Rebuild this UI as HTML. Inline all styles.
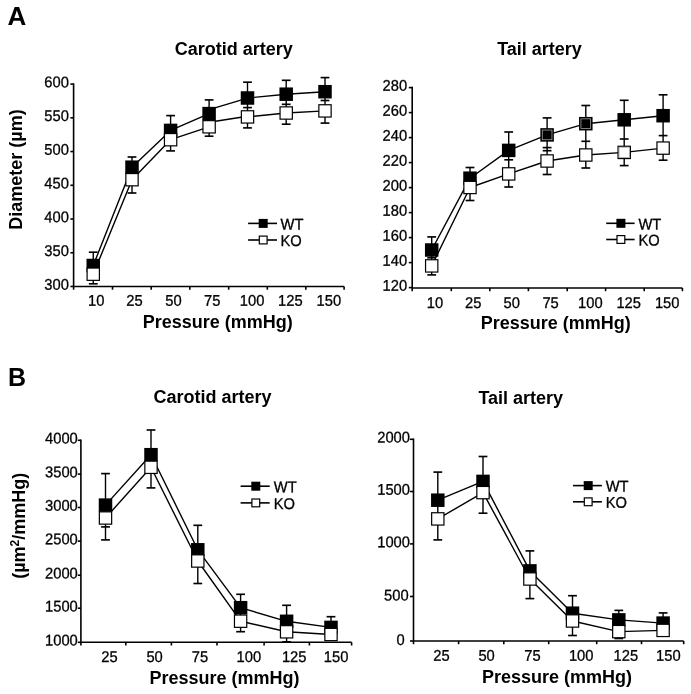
<!DOCTYPE html><html><head><meta charset="utf-8"><style>html,body{margin:0;padding:0;background:#fff;width:691px;height:694px;overflow:hidden}svg{display:block;will-change:transform}</style></head><body>
<svg width="691" height="694" viewBox="0 0 691 694" font-family='"Liberation Sans", sans-serif' fill="#000">
<rect width="691" height="694" fill="#fff"/>
<text x="7.4" y="24.9" font-size="26" font-weight="bold" text-anchor="start">A</text>
<text x="8" y="385.6" font-size="25" font-weight="bold" text-anchor="start">B</text>
<line x1="73.6" y1="83.3" x2="73.6" y2="289.7" stroke="#000" stroke-width="1.6"/>
<line x1="73.6" y1="286.5" x2="344.1" y2="286.5" stroke="#000" stroke-width="1.6"/>
<line x1="70.4" y1="84.1" x2="73.6" y2="84.1" stroke="#000" stroke-width="1.6"/>
<line x1="70.4" y1="117.83" x2="73.6" y2="117.83" stroke="#000" stroke-width="1.6"/>
<line x1="70.4" y1="151.56" x2="73.6" y2="151.56" stroke="#000" stroke-width="1.6"/>
<line x1="70.4" y1="185.29" x2="73.6" y2="185.29" stroke="#000" stroke-width="1.6"/>
<line x1="70.4" y1="219.02" x2="73.6" y2="219.02" stroke="#000" stroke-width="1.6"/>
<line x1="70.4" y1="252.75" x2="73.6" y2="252.75" stroke="#000" stroke-width="1.6"/>
<line x1="70.4" y1="286.48" x2="73.6" y2="286.48" stroke="#000" stroke-width="1.6"/>
<line x1="112.5" y1="286.5" x2="112.5" y2="289.7" stroke="#000" stroke-width="1.6"/>
<line x1="151.2" y1="286.5" x2="151.2" y2="289.7" stroke="#000" stroke-width="1.6"/>
<line x1="189.8" y1="286.5" x2="189.8" y2="289.7" stroke="#000" stroke-width="1.6"/>
<line x1="228.7" y1="286.5" x2="228.7" y2="289.7" stroke="#000" stroke-width="1.6"/>
<line x1="267.3" y1="286.5" x2="267.3" y2="289.7" stroke="#000" stroke-width="1.6"/>
<line x1="305.8" y1="286.5" x2="305.8" y2="289.7" stroke="#000" stroke-width="1.6"/>
<line x1="344.1" y1="286.5" x2="344.1" y2="289.7" stroke="#000" stroke-width="1.6"/>
<text transform="translate(68.9,87.4) rotate(0.1) scale(0.95,1)" font-size="15.5" text-anchor="end" stroke="#000" stroke-width="0.3">600</text>
<text transform="translate(68.9,121.13) rotate(0.1) scale(0.95,1)" font-size="15.5" text-anchor="end" stroke="#000" stroke-width="0.3">550</text>
<text transform="translate(68.9,154.86) rotate(0.1) scale(0.95,1)" font-size="15.5" text-anchor="end" stroke="#000" stroke-width="0.3">500</text>
<text transform="translate(68.9,188.59) rotate(0.1) scale(0.95,1)" font-size="15.5" text-anchor="end" stroke="#000" stroke-width="0.3">450</text>
<text transform="translate(68.9,222.32) rotate(0.1) scale(0.95,1)" font-size="15.5" text-anchor="end" stroke="#000" stroke-width="0.3">400</text>
<text transform="translate(68.9,256.05) rotate(0.1) scale(0.95,1)" font-size="15.5" text-anchor="end" stroke="#000" stroke-width="0.3">350</text>
<text transform="translate(68.9,289.78) rotate(0.1) scale(0.95,1)" font-size="15.5" text-anchor="end" stroke="#000" stroke-width="0.3">300</text>
<text transform="translate(96.3,305.7) rotate(0.1) scale(0.95,1)" font-size="15.5" text-anchor="middle" stroke="#000" stroke-width="0.3">10</text>
<text transform="translate(134.5,305.7) rotate(0.1) scale(0.95,1)" font-size="15.5" text-anchor="middle" stroke="#000" stroke-width="0.3">25</text>
<text transform="translate(173.5,305.7) rotate(0.1) scale(0.95,1)" font-size="15.5" text-anchor="middle" stroke="#000" stroke-width="0.3">50</text>
<text transform="translate(212.3,305.7) rotate(0.1) scale(0.95,1)" font-size="15.5" text-anchor="middle" stroke="#000" stroke-width="0.3">75</text>
<text transform="translate(252.1,305.7) rotate(0.1) scale(0.95,1)" font-size="15.5" text-anchor="middle" stroke="#000" stroke-width="0.3">100</text>
<text transform="translate(290.4,305.7) rotate(0.1) scale(0.95,1)" font-size="15.5" text-anchor="middle" stroke="#000" stroke-width="0.3">125</text>
<text transform="translate(328.8,305.7) rotate(0.1) scale(0.95,1)" font-size="15.5" text-anchor="middle" stroke="#000" stroke-width="0.3">150</text>
<text x="233.8" y="55" font-size="18" font-weight="bold" text-anchor="middle">Carotid artery</text>
<text x="217.75" y="327.7" font-size="18" font-weight="bold" text-anchor="middle">Pressure (mmHg)</text>
<text transform="translate(22,169.5) rotate(-90)" x="0" y="0" font-size="18" font-weight="bold" text-anchor="middle">Diameter (µm)</text>
<line x1="93.25" y1="265.5" x2="132" y2="167.2" stroke="#000" stroke-width="1.4" stroke-linecap="round"/>
<line x1="132" y1="167.2" x2="170.6" y2="130.4" stroke="#000" stroke-width="1.4" stroke-linecap="round"/>
<line x1="170.6" y1="130.4" x2="209.1" y2="113.6" stroke="#000" stroke-width="1.4" stroke-linecap="round"/>
<line x1="209.1" y1="109.6" x2="247.5" y2="98.2" stroke="#000" stroke-width="1.4" stroke-linecap="round"/>
<line x1="247.5" y1="98" x2="286.2" y2="94.2" stroke="#000" stroke-width="1.4" stroke-linecap="round"/>
<line x1="286.2" y1="94.2" x2="325" y2="91.7" stroke="#000" stroke-width="1.4" stroke-linecap="round"/>
<line x1="93.25" y1="274.2" x2="132" y2="179.7" stroke="#000" stroke-width="1.4" stroke-linecap="round"/>
<line x1="132" y1="179.7" x2="170.6" y2="139.7" stroke="#000" stroke-width="1.4" stroke-linecap="round"/>
<line x1="170.6" y1="139.7" x2="209.1" y2="126.8" stroke="#000" stroke-width="1.4" stroke-linecap="round"/>
<line x1="209.1" y1="122.3" x2="247.5" y2="116.3" stroke="#000" stroke-width="1.4" stroke-linecap="round"/>
<line x1="247.5" y1="116.9" x2="286.2" y2="113" stroke="#000" stroke-width="1.4" stroke-linecap="round"/>
<line x1="286.2" y1="113" x2="325" y2="110.9" stroke="#000" stroke-width="1.4" stroke-linecap="round"/>
<line x1="93.25" y1="252.2" x2="93.25" y2="283.8" stroke="#000" stroke-width="1.4"/>
<line x1="88.85" y1="252.2" x2="97.65" y2="252.2" stroke="#000" stroke-width="1.65"/>
<line x1="88.85" y1="283.8" x2="97.65" y2="283.8" stroke="#000" stroke-width="1.65"/>
<line x1="132" y1="157" x2="132" y2="193" stroke="#000" stroke-width="1.4"/>
<line x1="127.6" y1="157" x2="136.4" y2="157" stroke="#000" stroke-width="1.65"/>
<line x1="127.6" y1="193" x2="136.4" y2="193" stroke="#000" stroke-width="1.65"/>
<line x1="170.6" y1="115.6" x2="170.6" y2="150.9" stroke="#000" stroke-width="1.4"/>
<line x1="166.2" y1="115.6" x2="175" y2="115.6" stroke="#000" stroke-width="1.65"/>
<line x1="166.2" y1="150.9" x2="175" y2="150.9" stroke="#000" stroke-width="1.65"/>
<line x1="209.1" y1="99.9" x2="209.1" y2="136.2" stroke="#000" stroke-width="1.4"/>
<line x1="204.7" y1="99.9" x2="213.5" y2="99.9" stroke="#000" stroke-width="1.65"/>
<line x1="204.7" y1="136.2" x2="213.5" y2="136.2" stroke="#000" stroke-width="1.65"/>
<line x1="247.5" y1="82.2" x2="247.5" y2="127.9" stroke="#000" stroke-width="1.4"/>
<line x1="243.1" y1="82.2" x2="251.9" y2="82.2" stroke="#000" stroke-width="1.65"/>
<line x1="243.1" y1="107.6" x2="251.9" y2="107.6" stroke="#000" stroke-width="1.65"/>
<line x1="243.1" y1="127.9" x2="251.9" y2="127.9" stroke="#000" stroke-width="1.65"/>
<line x1="286.2" y1="80.3" x2="286.2" y2="124.2" stroke="#000" stroke-width="1.4"/>
<line x1="281.8" y1="80.3" x2="290.6" y2="80.3" stroke="#000" stroke-width="1.65"/>
<line x1="281.8" y1="104.3" x2="290.6" y2="104.3" stroke="#000" stroke-width="1.65"/>
<line x1="281.8" y1="124.2" x2="290.6" y2="124.2" stroke="#000" stroke-width="1.65"/>
<line x1="325" y1="77.6" x2="325" y2="123.1" stroke="#000" stroke-width="1.4"/>
<line x1="320.6" y1="77.6" x2="329.4" y2="77.6" stroke="#000" stroke-width="1.65"/>
<line x1="320.6" y1="100.5" x2="329.4" y2="100.5" stroke="#000" stroke-width="1.65"/>
<line x1="320.6" y1="123.1" x2="329.4" y2="123.1" stroke="#000" stroke-width="1.65"/>
<rect x="86.5" y="258.75" width="13.5" height="13.5" fill="#000"/>
<rect x="125.25" y="160.45" width="13.5" height="13.5" fill="#000"/>
<rect x="163.85" y="123.65" width="13.5" height="13.5" fill="#000"/>
<rect x="202.35" y="106.85" width="13.5" height="13.5" fill="#000"/>
<rect x="240.75" y="91.25" width="13.5" height="13.5" fill="#000"/>
<rect x="279.45" y="87.45" width="13.5" height="13.5" fill="#000"/>
<rect x="318.25" y="84.95" width="13.5" height="13.5" fill="#000"/>
<rect x="87.1" y="268.05" width="12.3" height="12.3" fill="#fff" stroke="#000" stroke-width="1.2"/>
<rect x="125.85" y="173.55" width="12.3" height="12.3" fill="#fff" stroke="#000" stroke-width="1.2"/>
<rect x="164.45" y="133.55" width="12.3" height="12.3" fill="#fff" stroke="#000" stroke-width="1.2"/>
<rect x="202.95" y="120.65" width="12.3" height="12.3" fill="#fff" stroke="#000" stroke-width="1.2"/>
<rect x="241.35" y="110.75" width="12.3" height="12.3" fill="#fff" stroke="#000" stroke-width="1.2"/>
<rect x="280.05" y="106.85" width="12.3" height="12.3" fill="#fff" stroke="#000" stroke-width="1.2"/>
<rect x="318.85" y="104.75" width="12.3" height="12.3" fill="#fff" stroke="#000" stroke-width="1.2"/>
<line x1="248.1" y1="223.4" x2="277" y2="223.4" stroke="#000" stroke-width="1.6"/>
<rect x="258.7" y="218.9" width="9" height="9" fill="#000"/>
<text transform="translate(280.5,229.5) rotate(0.1) scale(0.95,1)" font-size="15.5" text-anchor="start" stroke="#000" stroke-width="0.3">WT</text>
<line x1="248.1" y1="240" x2="277" y2="240" stroke="#000" stroke-width="1.6"/>
<rect x="259.3" y="236.1" width="7.8" height="7.8" fill="#fff" stroke="#000" stroke-width="1.2"/>
<text transform="translate(280.5,246.1) rotate(0.1) scale(0.95,1)" font-size="15.5" text-anchor="start" stroke="#000" stroke-width="0.3">KO</text>
<line x1="412.2" y1="86.8" x2="412.2" y2="291.2" stroke="#000" stroke-width="1.6"/>
<line x1="412.2" y1="288" x2="682.4" y2="288" stroke="#000" stroke-width="1.6"/>
<line x1="408.8" y1="87.6" x2="412.2" y2="87.6" stroke="#000" stroke-width="1.6"/>
<line x1="408.8" y1="112.6" x2="412.2" y2="112.6" stroke="#000" stroke-width="1.6"/>
<line x1="408.8" y1="137.6" x2="412.2" y2="137.6" stroke="#000" stroke-width="1.6"/>
<line x1="408.8" y1="162.6" x2="412.2" y2="162.6" stroke="#000" stroke-width="1.6"/>
<line x1="408.8" y1="187.6" x2="412.2" y2="187.6" stroke="#000" stroke-width="1.6"/>
<line x1="408.8" y1="212.6" x2="412.2" y2="212.6" stroke="#000" stroke-width="1.6"/>
<line x1="408.8" y1="237.6" x2="412.2" y2="237.6" stroke="#000" stroke-width="1.6"/>
<line x1="408.8" y1="262.6" x2="412.2" y2="262.6" stroke="#000" stroke-width="1.6"/>
<line x1="408.8" y1="287.6" x2="412.2" y2="287.6" stroke="#000" stroke-width="1.6"/>
<line x1="451.3" y1="288" x2="451.3" y2="291.2" stroke="#000" stroke-width="1.6"/>
<line x1="489.8" y1="288" x2="489.8" y2="291.2" stroke="#000" stroke-width="1.6"/>
<line x1="528.4" y1="288" x2="528.4" y2="291.2" stroke="#000" stroke-width="1.6"/>
<line x1="567.2" y1="288" x2="567.2" y2="291.2" stroke="#000" stroke-width="1.6"/>
<line x1="605.6" y1="288" x2="605.6" y2="291.2" stroke="#000" stroke-width="1.6"/>
<line x1="644.2" y1="288" x2="644.2" y2="291.2" stroke="#000" stroke-width="1.6"/>
<line x1="682.4" y1="288" x2="682.4" y2="291.2" stroke="#000" stroke-width="1.6"/>
<text transform="translate(407.1,90.8) rotate(0.1) scale(0.95,1)" font-size="15.5" text-anchor="end" stroke="#000" stroke-width="0.3">280</text>
<text transform="translate(407.1,115.8) rotate(0.1) scale(0.95,1)" font-size="15.5" text-anchor="end" stroke="#000" stroke-width="0.3">260</text>
<text transform="translate(407.1,140.8) rotate(0.1) scale(0.95,1)" font-size="15.5" text-anchor="end" stroke="#000" stroke-width="0.3">240</text>
<text transform="translate(407.1,165.8) rotate(0.1) scale(0.95,1)" font-size="15.5" text-anchor="end" stroke="#000" stroke-width="0.3">220</text>
<text transform="translate(407.1,190.8) rotate(0.1) scale(0.95,1)" font-size="15.5" text-anchor="end" stroke="#000" stroke-width="0.3">200</text>
<text transform="translate(407.1,215.8) rotate(0.1) scale(0.95,1)" font-size="15.5" text-anchor="end" stroke="#000" stroke-width="0.3">180</text>
<text transform="translate(407.1,240.8) rotate(0.1) scale(0.95,1)" font-size="15.5" text-anchor="end" stroke="#000" stroke-width="0.3">160</text>
<text transform="translate(407.1,265.8) rotate(0.1) scale(0.95,1)" font-size="15.5" text-anchor="end" stroke="#000" stroke-width="0.3">140</text>
<text transform="translate(407.1,290.8) rotate(0.1) scale(0.95,1)" font-size="15.5" text-anchor="end" stroke="#000" stroke-width="0.3">120</text>
<text transform="translate(435,308) rotate(0.1) scale(0.95,1)" font-size="15.5" text-anchor="middle" stroke="#000" stroke-width="0.3">10</text>
<text transform="translate(473.2,308) rotate(0.1) scale(0.95,1)" font-size="15.5" text-anchor="middle" stroke="#000" stroke-width="0.3">25</text>
<text transform="translate(511.7,308) rotate(0.1) scale(0.95,1)" font-size="15.5" text-anchor="middle" stroke="#000" stroke-width="0.3">50</text>
<text transform="translate(550.6,308) rotate(0.1) scale(0.95,1)" font-size="15.5" text-anchor="middle" stroke="#000" stroke-width="0.3">75</text>
<text transform="translate(590.4,308) rotate(0.1) scale(0.95,1)" font-size="15.5" text-anchor="middle" stroke="#000" stroke-width="0.3">100</text>
<text transform="translate(628.7,308) rotate(0.1) scale(0.95,1)" font-size="15.5" text-anchor="middle" stroke="#000" stroke-width="0.3">125</text>
<text transform="translate(667.2,308) rotate(0.1) scale(0.95,1)" font-size="15.5" text-anchor="middle" stroke="#000" stroke-width="0.3">150</text>
<text x="539.5" y="55.2" font-size="18" font-weight="bold" text-anchor="middle">Tail artery</text>
<text x="555.65" y="328.9" font-size="18" font-weight="bold" text-anchor="middle">Pressure (mmHg)</text>
<polyline points="431.7,250 470,178.2 508.7,150.4 547.1,134.9 585.8,123.7 624.2,119.8 663.1,115.7" fill="none" stroke="#000" stroke-width="1.4" stroke-linejoin="round"/>
<polyline points="431.7,265.9 470,187.5 508.7,173.9 547.1,161 585.8,155 624.2,152.4 663.1,148.1" fill="none" stroke="#000" stroke-width="1.4" stroke-linejoin="round"/>
<line x1="431.7" y1="236.9" x2="431.7" y2="274.9" stroke="#000" stroke-width="1.4"/>
<line x1="427.3" y1="236.9" x2="436.1" y2="236.9" stroke="#000" stroke-width="1.65"/>
<line x1="427.3" y1="257.8" x2="436.1" y2="257.8" stroke="#000" stroke-width="1.65"/>
<line x1="427.3" y1="274.9" x2="436.1" y2="274.9" stroke="#000" stroke-width="1.65"/>
<line x1="470" y1="167.5" x2="470" y2="200.5" stroke="#000" stroke-width="1.4"/>
<line x1="465.6" y1="167.5" x2="474.4" y2="167.5" stroke="#000" stroke-width="1.65"/>
<line x1="465.6" y1="200.5" x2="474.4" y2="200.5" stroke="#000" stroke-width="1.65"/>
<line x1="508.7" y1="132" x2="508.7" y2="187" stroke="#000" stroke-width="1.4"/>
<line x1="504.3" y1="132" x2="513.1" y2="132" stroke="#000" stroke-width="1.65"/>
<line x1="504.3" y1="159.8" x2="513.1" y2="159.8" stroke="#000" stroke-width="1.65"/>
<line x1="504.3" y1="187" x2="513.1" y2="187" stroke="#000" stroke-width="1.65"/>
<line x1="547.1" y1="117.9" x2="547.1" y2="174.5" stroke="#000" stroke-width="1.4"/>
<line x1="542.7" y1="117.9" x2="551.5" y2="117.9" stroke="#000" stroke-width="1.65"/>
<line x1="542.7" y1="147.6" x2="551.5" y2="147.6" stroke="#000" stroke-width="1.65"/>
<line x1="542.7" y1="150.7" x2="551.5" y2="150.7" stroke="#000" stroke-width="1.65"/>
<line x1="542.7" y1="174.5" x2="551.5" y2="174.5" stroke="#000" stroke-width="1.65"/>
<line x1="585.8" y1="105.5" x2="585.8" y2="168" stroke="#000" stroke-width="1.4"/>
<line x1="581.4" y1="105.5" x2="590.2" y2="105.5" stroke="#000" stroke-width="1.65"/>
<line x1="581.4" y1="141.3" x2="590.2" y2="141.3" stroke="#000" stroke-width="1.65"/>
<line x1="581.4" y1="168" x2="590.2" y2="168" stroke="#000" stroke-width="1.65"/>
<line x1="624.2" y1="100.3" x2="624.2" y2="165.6" stroke="#000" stroke-width="1.4"/>
<line x1="619.8" y1="100.3" x2="628.6" y2="100.3" stroke="#000" stroke-width="1.65"/>
<line x1="619.8" y1="139" x2="628.6" y2="139" stroke="#000" stroke-width="1.65"/>
<line x1="619.8" y1="165.6" x2="628.6" y2="165.6" stroke="#000" stroke-width="1.65"/>
<line x1="663.1" y1="94.8" x2="663.1" y2="160.2" stroke="#000" stroke-width="1.4"/>
<line x1="658.7" y1="94.8" x2="667.5" y2="94.8" stroke="#000" stroke-width="1.65"/>
<line x1="658.7" y1="135.6" x2="667.5" y2="135.6" stroke="#000" stroke-width="1.65"/>
<line x1="658.7" y1="160.2" x2="667.5" y2="160.2" stroke="#000" stroke-width="1.65"/>
<rect x="424.95" y="243.25" width="13.5" height="13.5" fill="#000"/>
<rect x="463.25" y="171.45" width="13.5" height="13.5" fill="#000"/>
<rect x="501.95" y="143.65" width="13.5" height="13.5" fill="#000"/>
<rect x="540.35" y="128.15" width="13.5" height="13.5" fill="#000"/>
<rect x="542.25" y="130.05" width="9.7" height="9.7" fill="none" stroke="#b4b4b4" stroke-width="0.7"/>
<rect x="579.05" y="116.95" width="13.5" height="13.5" fill="#000"/>
<rect x="580.95" y="118.85" width="9.7" height="9.7" fill="none" stroke="#b4b4b4" stroke-width="0.7"/>
<rect x="617.45" y="113.05" width="13.5" height="13.5" fill="#000"/>
<rect x="656.35" y="108.95" width="13.5" height="13.5" fill="#000"/>
<rect x="425.55" y="259.75" width="12.3" height="12.3" fill="#fff" stroke="#000" stroke-width="1.2"/>
<rect x="463.85" y="181.35" width="12.3" height="12.3" fill="#fff" stroke="#000" stroke-width="1.2"/>
<rect x="502.55" y="167.75" width="12.3" height="12.3" fill="#fff" stroke="#000" stroke-width="1.2"/>
<rect x="540.95" y="154.85" width="12.3" height="12.3" fill="#fff" stroke="#000" stroke-width="1.2"/>
<rect x="579.65" y="148.85" width="12.3" height="12.3" fill="#fff" stroke="#000" stroke-width="1.2"/>
<rect x="618.05" y="146.25" width="12.3" height="12.3" fill="#fff" stroke="#000" stroke-width="1.2"/>
<rect x="619.05" y="147.25" width="10.3" height="10.3" fill="none" stroke="#9a9a9a" stroke-width="0.7"/>
<rect x="656.95" y="141.95" width="12.3" height="12.3" fill="#fff" stroke="#000" stroke-width="1.2"/>
<line x1="606.2" y1="223.3" x2="634.6" y2="223.3" stroke="#000" stroke-width="1.6"/>
<rect x="616.4" y="218.8" width="9" height="9" fill="#000"/>
<text transform="translate(638.4,229.4) rotate(0.1) scale(0.95,1)" font-size="15.5" text-anchor="start" stroke="#000" stroke-width="0.3">WT</text>
<line x1="606.2" y1="239.5" x2="634.6" y2="239.5" stroke="#000" stroke-width="1.6"/>
<rect x="617" y="235.6" width="7.8" height="7.8" fill="#fff" stroke="#000" stroke-width="1.2"/>
<text transform="translate(638.4,245.6) rotate(0.1) scale(0.95,1)" font-size="15.5" text-anchor="start" stroke="#000" stroke-width="0.3">KO</text>
<line x1="80.9" y1="439.5" x2="80.9" y2="645.5" stroke="#000" stroke-width="1.6"/>
<line x1="80.9" y1="642.3" x2="351.6" y2="642.3" stroke="#000" stroke-width="1.6"/>
<line x1="77.7" y1="440.3" x2="80.9" y2="440.3" stroke="#000" stroke-width="1.6"/>
<line x1="77.7" y1="474.1" x2="80.9" y2="474.1" stroke="#000" stroke-width="1.6"/>
<line x1="77.7" y1="507.5" x2="80.9" y2="507.5" stroke="#000" stroke-width="1.6"/>
<line x1="77.7" y1="541.1" x2="80.9" y2="541.1" stroke="#000" stroke-width="1.6"/>
<line x1="77.7" y1="575.2" x2="80.9" y2="575.2" stroke="#000" stroke-width="1.6"/>
<line x1="77.7" y1="608.2" x2="80.9" y2="608.2" stroke="#000" stroke-width="1.6"/>
<line x1="77.7" y1="642.3" x2="80.9" y2="642.3" stroke="#000" stroke-width="1.6"/>
<line x1="125.8" y1="642.3" x2="125.8" y2="645.5" stroke="#000" stroke-width="1.6"/>
<line x1="171.4" y1="642.3" x2="171.4" y2="645.5" stroke="#000" stroke-width="1.6"/>
<line x1="217" y1="642.3" x2="217" y2="645.5" stroke="#000" stroke-width="1.6"/>
<line x1="264.1" y1="642.3" x2="264.1" y2="645.5" stroke="#000" stroke-width="1.6"/>
<line x1="309.4" y1="642.3" x2="309.4" y2="645.5" stroke="#000" stroke-width="1.6"/>
<line x1="351.6" y1="642.3" x2="351.6" y2="645.5" stroke="#000" stroke-width="1.6"/>
<text transform="translate(77.8,443.6) rotate(0.1) scale(0.95,1)" font-size="15.5" text-anchor="end" stroke="#000" stroke-width="0.3">4000</text>
<text transform="translate(77.8,477.4) rotate(0.1) scale(0.95,1)" font-size="15.5" text-anchor="end" stroke="#000" stroke-width="0.3">3500</text>
<text transform="translate(77.8,510.8) rotate(0.1) scale(0.95,1)" font-size="15.5" text-anchor="end" stroke="#000" stroke-width="0.3">3000</text>
<text transform="translate(77.8,544.4) rotate(0.1) scale(0.95,1)" font-size="15.5" text-anchor="end" stroke="#000" stroke-width="0.3">2500</text>
<text transform="translate(77.8,578.5) rotate(0.1) scale(0.95,1)" font-size="15.5" text-anchor="end" stroke="#000" stroke-width="0.3">2000</text>
<text transform="translate(77.8,611.5) rotate(0.1) scale(0.95,1)" font-size="15.5" text-anchor="end" stroke="#000" stroke-width="0.3">1500</text>
<text transform="translate(77.8,645.6) rotate(0.1) scale(0.95,1)" font-size="15.5" text-anchor="end" stroke="#000" stroke-width="0.3">1000</text>
<text transform="translate(109.5,662) rotate(0.1) scale(0.95,1)" font-size="15.5" text-anchor="middle" stroke="#000" stroke-width="0.3">25</text>
<text transform="translate(154.6,662) rotate(0.1) scale(0.95,1)" font-size="15.5" text-anchor="middle" stroke="#000" stroke-width="0.3">50</text>
<text transform="translate(200,662) rotate(0.1) scale(0.95,1)" font-size="15.5" text-anchor="middle" stroke="#000" stroke-width="0.3">75</text>
<text transform="translate(248.9,662) rotate(0.1) scale(0.95,1)" font-size="15.5" text-anchor="middle" stroke="#000" stroke-width="0.3">100</text>
<text transform="translate(294.2,662) rotate(0.1) scale(0.95,1)" font-size="15.5" text-anchor="middle" stroke="#000" stroke-width="0.3">125</text>
<text transform="translate(336.1,662) rotate(0.1) scale(0.95,1)" font-size="15.5" text-anchor="middle" stroke="#000" stroke-width="0.3">150</text>
<text x="212.5" y="403.4" font-size="18" font-weight="bold" text-anchor="middle">Carotid artery</text>
<text x="224.5" y="684" font-size="18" font-weight="bold" text-anchor="middle">Pressure (mmHg)</text>
<text transform="translate(24.9,525.75) rotate(-90)" x="0" y="0" font-size="18" font-weight="bold" text-anchor="middle">(µm<tspan font-size="12" dy="-6">2</tspan><tspan dy="6">/mmHg)</tspan></text>
<polyline points="105.5,505.1 151,454.7 197.8,549.8 240.6,607.7 286.6,621.3 331,627.4" fill="none" stroke="#000" stroke-width="1.4" stroke-linejoin="round"/>
<polyline points="105.5,518 151,467.3 197.8,561 240.6,621.2 286.6,631.8 331,634.5" fill="none" stroke="#000" stroke-width="1.4" stroke-linejoin="round"/>
<line x1="105.5" y1="473.6" x2="105.5" y2="539.9" stroke="#000" stroke-width="1.4"/>
<line x1="101.1" y1="473.6" x2="109.9" y2="473.6" stroke="#000" stroke-width="1.65"/>
<line x1="101.1" y1="526.9" x2="109.9" y2="526.9" stroke="#000" stroke-width="1.65"/>
<line x1="101.1" y1="539.9" x2="109.9" y2="539.9" stroke="#000" stroke-width="1.65"/>
<line x1="151" y1="430" x2="151" y2="487.9" stroke="#000" stroke-width="1.4"/>
<line x1="146.6" y1="430" x2="155.4" y2="430" stroke="#000" stroke-width="1.65"/>
<line x1="146.6" y1="487.9" x2="155.4" y2="487.9" stroke="#000" stroke-width="1.65"/>
<line x1="197.8" y1="525.3" x2="197.8" y2="583.5" stroke="#000" stroke-width="1.4"/>
<line x1="193.4" y1="525.3" x2="202.2" y2="525.3" stroke="#000" stroke-width="1.65"/>
<line x1="193.4" y1="583.5" x2="202.2" y2="583.5" stroke="#000" stroke-width="1.65"/>
<line x1="240.6" y1="594.3" x2="240.6" y2="631.7" stroke="#000" stroke-width="1.4"/>
<line x1="236.2" y1="594.3" x2="245" y2="594.3" stroke="#000" stroke-width="1.65"/>
<line x1="236.2" y1="631.7" x2="245" y2="631.7" stroke="#000" stroke-width="1.65"/>
<line x1="286.6" y1="605.3" x2="286.6" y2="641.8" stroke="#000" stroke-width="1.4"/>
<line x1="282.2" y1="605.3" x2="291" y2="605.3" stroke="#000" stroke-width="1.65"/>
<line x1="282.2" y1="641.8" x2="291" y2="641.8" stroke="#000" stroke-width="1.65"/>
<line x1="331" y1="616.7" x2="331" y2="634.5" stroke="#000" stroke-width="1.4"/>
<line x1="326.6" y1="616.7" x2="335.4" y2="616.7" stroke="#000" stroke-width="1.65"/>
<rect x="98.75" y="498.35" width="13.5" height="13.5" fill="#000"/>
<rect x="144.25" y="447.95" width="13.5" height="13.5" fill="#000"/>
<rect x="191.05" y="543.05" width="13.5" height="13.5" fill="#000"/>
<rect x="233.85" y="600.95" width="13.5" height="13.5" fill="#000"/>
<rect x="279.85" y="614.55" width="13.5" height="13.5" fill="#000"/>
<rect x="324.25" y="620.65" width="13.5" height="13.5" fill="#000"/>
<rect x="99.35" y="511.85" width="12.3" height="12.3" fill="#fff" stroke="#000" stroke-width="1.2"/>
<rect x="144.85" y="461.15" width="12.3" height="12.3" fill="#fff" stroke="#000" stroke-width="1.2"/>
<rect x="191.65" y="554.85" width="12.3" height="12.3" fill="#fff" stroke="#000" stroke-width="1.2"/>
<rect x="234.45" y="615.05" width="12.3" height="12.3" fill="#fff" stroke="#000" stroke-width="1.2"/>
<rect x="280.45" y="625.65" width="12.3" height="12.3" fill="#fff" stroke="#000" stroke-width="1.2"/>
<rect x="324.85" y="628.35" width="12.3" height="12.3" fill="#fff" stroke="#000" stroke-width="1.2"/>
<line x1="240.6" y1="486.2" x2="269.7" y2="486.2" stroke="#000" stroke-width="1.6"/>
<rect x="251.3" y="481.7" width="9" height="9" fill="#000"/>
<text transform="translate(273.8,492.2) rotate(0.1) scale(0.95,1)" font-size="15.5" text-anchor="start" stroke="#000" stroke-width="0.3">WT</text>
<line x1="240.6" y1="502.9" x2="269.7" y2="502.9" stroke="#000" stroke-width="1.6"/>
<rect x="251.9" y="499" width="7.8" height="7.8" fill="#fff" stroke="#000" stroke-width="1.2"/>
<text transform="translate(273.8,508.9) rotate(0.1) scale(0.95,1)" font-size="15.5" text-anchor="start" stroke="#000" stroke-width="0.3">KO</text>
<line x1="413.5" y1="438.5" x2="413.5" y2="644.2" stroke="#000" stroke-width="1.6"/>
<line x1="413.5" y1="641" x2="683.7" y2="641" stroke="#000" stroke-width="1.6"/>
<line x1="410" y1="439.3" x2="413.5" y2="439.3" stroke="#000" stroke-width="1.6"/>
<line x1="410" y1="491.5" x2="413.5" y2="491.5" stroke="#000" stroke-width="1.6"/>
<line x1="410" y1="543.9" x2="413.5" y2="543.9" stroke="#000" stroke-width="1.6"/>
<line x1="410" y1="596.5" x2="413.5" y2="596.5" stroke="#000" stroke-width="1.6"/>
<line x1="410" y1="641" x2="413.5" y2="641" stroke="#000" stroke-width="1.6"/>
<line x1="458.6" y1="641" x2="458.6" y2="644.2" stroke="#000" stroke-width="1.6"/>
<line x1="503.8" y1="641" x2="503.8" y2="644.2" stroke="#000" stroke-width="1.6"/>
<line x1="548.7" y1="641" x2="548.7" y2="644.2" stroke="#000" stroke-width="1.6"/>
<line x1="596.7" y1="641" x2="596.7" y2="644.2" stroke="#000" stroke-width="1.6"/>
<line x1="641.5" y1="641" x2="641.5" y2="644.2" stroke="#000" stroke-width="1.6"/>
<line x1="683.7" y1="641" x2="683.7" y2="644.2" stroke="#000" stroke-width="1.6"/>
<text transform="translate(410,442.6) rotate(0.1) scale(0.95,1)" font-size="15.5" text-anchor="end" stroke="#000" stroke-width="0.3">2000</text>
<text transform="translate(410,494.8) rotate(0.1) scale(0.95,1)" font-size="15.5" text-anchor="end" stroke="#000" stroke-width="0.3">1500</text>
<text transform="translate(410,547.2) rotate(0.1) scale(0.95,1)" font-size="15.5" text-anchor="end" stroke="#000" stroke-width="0.3">1000</text>
<text transform="translate(408.6,600.6) rotate(0.1) scale(0.95,1)" font-size="15.5" text-anchor="end" stroke="#000" stroke-width="0.3">500</text>
<text transform="translate(404.6,645) rotate(0.1) scale(0.95,1)" font-size="15.5" text-anchor="end" stroke="#000" stroke-width="0.3">0</text>
<text transform="translate(441.5,660.8) rotate(0.1) scale(0.95,1)" font-size="15.5" text-anchor="middle" stroke="#000" stroke-width="0.3">25</text>
<text transform="translate(486.6,660.8) rotate(0.1) scale(0.95,1)" font-size="15.5" text-anchor="middle" stroke="#000" stroke-width="0.3">50</text>
<text transform="translate(532.4,660.8) rotate(0.1) scale(0.95,1)" font-size="15.5" text-anchor="middle" stroke="#000" stroke-width="0.3">75</text>
<text transform="translate(581.2,660.8) rotate(0.1) scale(0.95,1)" font-size="15.5" text-anchor="middle" stroke="#000" stroke-width="0.3">100</text>
<text transform="translate(625.8,660.8) rotate(0.1) scale(0.95,1)" font-size="15.5" text-anchor="middle" stroke="#000" stroke-width="0.3">125</text>
<text transform="translate(668.4,660.8) rotate(0.1) scale(0.95,1)" font-size="15.5" text-anchor="middle" stroke="#000" stroke-width="0.3">150</text>
<text x="520.75" y="403.9" font-size="18" font-weight="bold" text-anchor="middle">Tail artery</text>
<text x="556.95" y="682.6" font-size="18" font-weight="bold" text-anchor="middle">Pressure (mmHg)</text>
<polyline points="437.8,500.2 483,481.4 529.9,570.9 572.5,613.2 618.8,619.9 663.1,623.1" fill="none" stroke="#000" stroke-width="1.4" stroke-linejoin="round"/>
<polyline points="437.8,518.9 483,492.6 529.9,579 572.5,621 618.8,631.6 663.1,630.4" fill="none" stroke="#000" stroke-width="1.4" stroke-linejoin="round"/>
<line x1="437.8" y1="472.1" x2="437.8" y2="539.9" stroke="#000" stroke-width="1.4"/>
<line x1="433.4" y1="472.1" x2="442.2" y2="472.1" stroke="#000" stroke-width="1.65"/>
<line x1="433.4" y1="539.9" x2="442.2" y2="539.9" stroke="#000" stroke-width="1.65"/>
<line x1="483" y1="456.5" x2="483" y2="513.2" stroke="#000" stroke-width="1.4"/>
<line x1="478.6" y1="456.5" x2="487.4" y2="456.5" stroke="#000" stroke-width="1.65"/>
<line x1="478.6" y1="513.2" x2="487.4" y2="513.2" stroke="#000" stroke-width="1.65"/>
<line x1="529.9" y1="550.9" x2="529.9" y2="598.6" stroke="#000" stroke-width="1.4"/>
<line x1="525.5" y1="550.9" x2="534.3" y2="550.9" stroke="#000" stroke-width="1.65"/>
<line x1="525.5" y1="598.6" x2="534.3" y2="598.6" stroke="#000" stroke-width="1.65"/>
<line x1="572.5" y1="595.7" x2="572.5" y2="635.5" stroke="#000" stroke-width="1.4"/>
<line x1="568.1" y1="595.7" x2="576.9" y2="595.7" stroke="#000" stroke-width="1.65"/>
<line x1="568.1" y1="635.5" x2="576.9" y2="635.5" stroke="#000" stroke-width="1.65"/>
<line x1="618.8" y1="610.4" x2="618.8" y2="638.5" stroke="#000" stroke-width="1.4"/>
<line x1="614.4" y1="610.4" x2="623.2" y2="610.4" stroke="#000" stroke-width="1.65"/>
<line x1="614.4" y1="638.5" x2="623.2" y2="638.5" stroke="#000" stroke-width="1.65"/>
<line x1="663.1" y1="612.9" x2="663.1" y2="630.4" stroke="#000" stroke-width="1.4"/>
<line x1="658.7" y1="612.9" x2="667.5" y2="612.9" stroke="#000" stroke-width="1.65"/>
<rect x="431.05" y="493.45" width="13.5" height="13.5" fill="#000"/>
<rect x="476.25" y="474.65" width="13.5" height="13.5" fill="#000"/>
<rect x="523.15" y="564.15" width="13.5" height="13.5" fill="#000"/>
<rect x="565.75" y="606.45" width="13.5" height="13.5" fill="#000"/>
<rect x="612.05" y="613.15" width="13.5" height="13.5" fill="#000"/>
<rect x="656.35" y="616.35" width="13.5" height="13.5" fill="#000"/>
<rect x="431.65" y="512.75" width="12.3" height="12.3" fill="#fff" stroke="#000" stroke-width="1.2"/>
<rect x="476.85" y="486.45" width="12.3" height="12.3" fill="#fff" stroke="#000" stroke-width="1.2"/>
<rect x="523.75" y="572.85" width="12.3" height="12.3" fill="#fff" stroke="#000" stroke-width="1.2"/>
<rect x="566.35" y="614.85" width="12.3" height="12.3" fill="#fff" stroke="#000" stroke-width="1.2"/>
<rect x="612.65" y="625.45" width="12.3" height="12.3" fill="#fff" stroke="#000" stroke-width="1.2"/>
<rect x="656.95" y="624.25" width="12.3" height="12.3" fill="#fff" stroke="#000" stroke-width="1.2"/>
<line x1="573" y1="485.6" x2="601.9" y2="485.6" stroke="#000" stroke-width="1.6"/>
<rect x="583.7" y="481.1" width="9" height="9" fill="#000"/>
<text transform="translate(605.7,491.6) rotate(0.1) scale(0.95,1)" font-size="15.5" text-anchor="start" stroke="#000" stroke-width="0.3">WT</text>
<line x1="573" y1="501.8" x2="601.9" y2="501.8" stroke="#000" stroke-width="1.6"/>
<rect x="584.3" y="497.9" width="7.8" height="7.8" fill="#fff" stroke="#000" stroke-width="1.2"/>
<text transform="translate(605.7,507.8) rotate(0.1) scale(0.95,1)" font-size="15.5" text-anchor="start" stroke="#000" stroke-width="0.3">KO</text>
</svg></body></html>
